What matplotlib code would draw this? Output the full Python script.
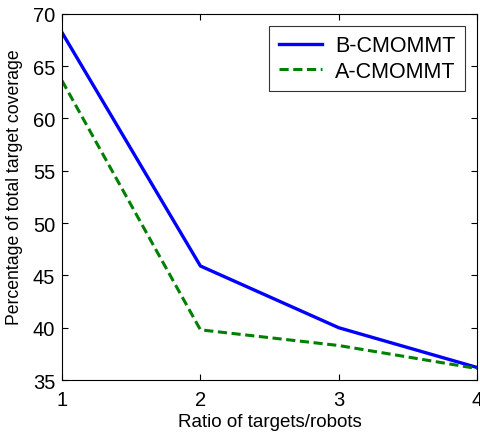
import matplotlib.pyplot as plt

ratio = [1, 2, 3, 4]
b_cmommt = [68.2, 45.9, 40.0, 36.2]
a_cmommt = [63.6, 39.8, 38.3, 36.1]
x_ticks = [1, 2, 3, 4]
y_ticks = [35, 40, 45, 50, 55, 60, 65, 70]

plt.rcParams["font.family"] = ["Liberation Sans", "DejaVu Sans"]

fig = plt.figure(figsize=(4.81, 4.35), dpi=100)
ax = fig.add_axes([0.129, 0.124, 0.863, 0.842])

ax.plot(ratio, b_cmommt, color="#0000ff", lw=2.4, label="B-CMOMMT")
ax.plot(ratio, a_cmommt, color="#008000", lw=2.2, ls=(0, (3, 1.5)), label="A-CMOMMT")

ax.set_xlim(1, 4)
ax.set_ylim(35, 70)
ax.set_xticks(x_ticks)
ax.set_yticks(y_ticks)
ax.tick_params(direction="in", top=True, right=True, labelsize=14.5, length=4)
ax.tick_params(axis="x", pad=7)
ax.tick_params(axis="y", pad=5)
ax.set_xlabel("Ratio of targets/robots", fontsize=13.5, labelpad=3)
ax.set_ylabel("Percentage of total target coverage", fontsize=12.7)
ax.yaxis.set_label_coords(-0.093, 0.53)

leg = ax.legend(loc="upper right", fontsize=15.5, frameon=True, fancybox=False,
                edgecolor="black", borderaxespad=0.55, handlelength=2.0,
                handletextpad=0.6, labelspacing=0.2, borderpad=0.45)
leg.get_frame().set_linewidth(0.8)

fig.savefig("out.png", dpi=100)
